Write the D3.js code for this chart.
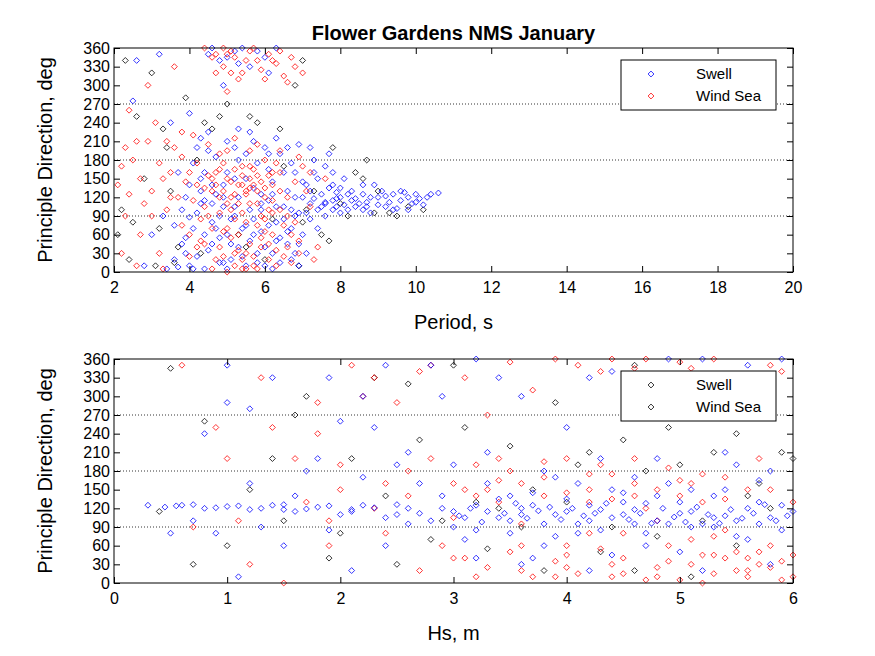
<!DOCTYPE html>
<html><head><meta charset="utf-8">
<script src="https://cdn.jsdelivr.net/npm/d3@7"></script>
<style>body{margin:0;background:#fff}text{font-family:"Liberation Sans",Arial,sans-serif}</style>
</head><body><svg id="c" width="875" height="656"></svg>
<script>
// values: "x,dir" pairs
var periodTicks = [2,4,6,8,10,12,14,16,18,20];
var hsTicks = [0,1,2,3,4,5,6];
var dirTicks = d3.range(0, 361, 30);

var topSwell = ("3.6,20 3.8,45 4.0,10 4.1,70 4.2,95 4.3,130 4.4,160 4.5,35 4.6,110 4.7,185 4.8,55 4.9,140 5.0,5 5.1,85 5.2,200 5.3,120 5.4,25 5.5,150 5.6,100 5.7,60 5.8,175 5.9,125 6.0,40 6.1,115 6.2,145 6.3,80 6.4,190 6.5,105 6.6,130 6.7,20 6.8,160 6.9,95 7.0,120 7.1,140 7.2,110 7.3,180 7.4,100 7.5,125 7.6,90 7.7,135 7.8,115 7.9,105 8.0,120 8.2,100 8.3,130 8.5,110 8.6,125 8.8,95 9.0,120 9.2,105 9.4,125 9.6,115 9.8,100 10.0,125 10.3,120 10.6,127 9.9,110 8.9,140 8.1,150 7.6,170 7.2,200 6.3,215 5.6,225 5.0,210 4.2,200 3.9,120 3.3,90 3.0,60 2.8,10 3.4,5 4.5,350 4.8,340 5.2,355 5.6,330 6.0,345 6.3,360 4.9,300 5.4,360 3.2,350 2.6,340 2.5,275 3.5,240 4.0,255 4.6,80 5.1,45 5.8,15 6.2,5 6.6,65 6.9,45 7.1,30 5.5,75 4.7,125 4.3,150 3.7,160 7.3,118 7.6,112 7.9,128 8.1,108 8.4,118 8.7,112 9.1,130 9.3,112 9.5,102 9.7,128 10.1,118 8.0,95 8.6,100 7.4,150 7.8,160 6.7,175 6.1,190 5.3,180 4.4,60 3.9,30 4.9,15 5.9,100 6.4,55 6.8,90 7.0,145 4.1,5 3.6,75 4.5,195 5.7,210 6.6,200 5.2,150 4.8,90 " +
  "3.7,8 3.9,55 4.0,88 4.2,25 4.3,110 4.4,5 4.6,45 4.7,70 4.8,15 4.9,105 5.0,60 5.1,20 5.2,90 5.3,40 5.4,70 5.5,10 5.6,50 5.7,85 5.8,30 5.9,65 6.0,10 6.1,75 6.2,30 6.3,50 6.4,15 6.5,85 6.6,45 6.7,70 6.8,30 6.9,10 7.0,60 7.2,85 7.4,70 7.6,110 7.8,100 8.0,135 8.2,125 8.4,105 8.6,140 8.8,120 9.0,108 9.2,122 9.4,100 9.6,130 9.8,120 10.0,112 10.2,108 10.4,125 7.1,95 7.5,105 7.9,118 8.3,115 8.7,105 7.3,160 7.7,190 6.9,205 6.5,160 6.0,200 5.5,190 5.0,160 4.6,140 4.1,175 4.5,225 5.3,230 6.1,165 6.8,120 6.2,125 5.7,135 5.2,105 4.9,120 4.4,115 4.0,140 3.8,100 4.3,215 5.0,345 5.3,335 5.8,355 6.1,320 4.6,360 5.9,110 6.3,105 6.7,100 7.2,130 7.8,140").split(" ");
var topWind = ("2.1,140 2.3,90 2.5,180 2.7,60 2.9,210 3.0,130 3.2,30 3.4,100 3.5,160 3.6,200 3.8,75 3.9,145 4.0,25 4.1,115 4.2,175 4.3,50 4.4,135 4.5,90 4.6,5 4.7,160 4.8,120 4.9,65 5.0,195 5.1,145 5.2,30 5.3,110 5.4,170 5.5,80 5.6,150 5.7,10 5.8,130 5.9,55 6.0,180 6.1,100 6.2,140 6.3,35 6.4,160 6.5,75 6.6,120 6.7,15 6.8,145 6.9,50 7.0,170 7.2,105 7.4,40 7.6,150 4.6,345 4.9,330 5.1,355 5.3,310 5.5,340 5.7,360 5.9,325 6.1,350 6.3,335 6.5,315 6.7,345 5.0,290 4.4,360 3.6,330 2.9,300 2.4,260 3.1,240 3.8,225 4.5,205 5.2,215 5.8,205 6.4,195 2.2,30 2.6,10 3.3,5 4.1,220 4.8,40 5.4,20 5.6,45 5.9,90 6.2,60 5.1,100 4.3,85 4.7,20 5.0,0 5.3,60 5.5,125 5.7,165 6.0,135 6.1,20 5.4,140 4.9,175 4.6,150 5.8,110 6.4,100 6.8,80 7.1,130 3.7,120 3.3,150 2.8,110 2.3,200 4.2,140 5.2,125 5.6,135 6.2,160 4.4,105 4.0,60 5.5,5 6.6,40 7.3,20 5.0,350 5.4,320 6.0,310 6.8,330 4.7,320 " +
  "4.5,155 4.6,130 4.7,140 4.8,165 4.9,130 5.0,150 5.1,120 5.2,165 5.3,140 5.4,155 5.5,130 5.6,170 5.7,140 5.8,155 5.9,145 6.0,120 6.1,155 6.2,115 5.0,110 5.2,85 5.4,95 5.6,110 5.8,75 6.0,85 6.2,95 6.4,130 6.6,90 4.8,95 4.6,70 4.4,45 4.9,25 5.1,55 5.3,35 5.5,30 5.7,25 5.9,40 6.1,45 6.3,10 6.5,25 6.7,60 6.9,30 5.0,70 5.2,10 5.4,5 5.8,5 6.0,65 4.2,40 4.0,160 3.8,185 3.5,120 3.2,175 3.0,90 2.7,150 2.4,125 2.2,170 2.6,210 3.4,210 4.8,190 5.6,195 6.3,175 6.9,185 7.2,160 4.7,350 5.2,345 5.6,355 6.2,340 6.4,355 5.8,340 5.1,320 4.9,360 6.6,305 7.0,320").split(" ");
var topBlack = "2.2,100 2.6,250 3.0,320 3.4,200 3.9,280 4.4,240 5.0,270 5.6,250 6.4,230 7.0,80 7.5,60 8.2,90 8.6,150 9.3,95 9.8,105 10.2,100 8.7,180 7.8,200 6.8,300 7.0,340 2.4,20 2.8,150 3.2,70 3.7,40 4.2,180 5.3,60 6.0,20 6.5,170 7.3,130 8.0,110 2.3,340 3.1,10 4.6,230 7.7,50 9.0,130 2.1,60 3.5,130 6.9,10 8.4,160 5.8,240 3.3,230 4.8,250 6.2,85 7.1,100 8.9,95 9.5,90 2.5,80 3.6,15 4.3,30 5.5,40".split(" ");

var botSwell = ("0.3,125 0.45,122 0.6,125 0.8,120 1.0,123 1.2,118 1.4,125 1.6,115 1.8,122 2.0,110 2.2,125 2.4,105 2.6,120 2.8,100 3.0,115 3.2,125 3.4,105 3.6,120 3.8,95 4.0,115 4.2,125 4.4,105 4.6,118 4.8,100 5.0,112 5.2,95 5.4,108 5.6,120 5.8,105 6.0,115 0.8,240 1.0,350 1.2,280 1.5,60 1.7,180 1.9,330 2.1,20 2.3,250 2.5,190 2.7,160 2.9,300 3.1,70 3.3,210 3.5,140 3.7,40 3.9,170 4.1,80 4.3,200 4.5,145 4.7,60 4.9,360 5.1,150 5.3,90 5.5,190 5.7,130 5.9,360 3.0,90 3.2,85 3.4,135 3.6,110 4.2,100 4.6,95 5.0,130 5.5,100 2.6,95 1.9,85 1.3,90 0.9,80 1.1,10 1.6,140 2.2,300 2.8,350 3.4,330 4.4,340 5.2,360 0.5,80 3.1,105 3.3,115 3.5,100 3.7,125 3.9,110 4.1,95 4.3,118 4.5,110 4.7,128 4.9,95 5.1,115 5.3,105 5.7,95 5.9,125 2.9,120 2.5,110 2.1,115 1.5,118 4.0,135 4.4,150 4.8,140 5.4,150 3.8,180 4.6,170 5.8,180 2.4,60 3.6,30 4.2,20 5.0,50 5.6,70 1.8,200 2.0,260 1.4,330 3.2,360 4.0,250 " +
  "0.55,124 0.7,126 0.9,121 1.1,124 1.3,120 1.5,126 1.7,119 1.9,124 2.1,118 2.3,121 2.5,126 2.7,112 3.05,108 3.15,120 3.25,98 3.45,112 3.55,128 3.65,104 3.75,116 3.85,122 3.95,102 4.05,120 4.15,108 4.25,112 4.35,128 4.55,102 4.65,112 4.75,96 4.85,120 4.95,106 5.05,98 5.15,122 5.25,110 5.35,96 5.45,118 5.55,104 5.65,112 5.75,126 5.85,100 5.95,108 2.9,140 3.3,160 3.7,145 4.1,160 4.5,130 4.9,160 5.3,140 5.7,165 3.5,80 3.9,75 4.3,85 4.7,80 5.1,90 5.5,75 5.9,85 3.2,40 3.8,60 4.4,45 5.2,20 5.8,30 2.2,170 2.6,210 3.0,190 4.8,200 5.4,210 1.2,160 0.7,100 1.0,290 2.4,350 3.6,300 4.2,330 5.6,350").split(" ");
var botWind = ("0.6,350 0.9,250 1.1,100 1.3,330 1.6,200 1.8,240 2.0,150 2.2,300 2.4,80 2.6,180 2.8,350 3.0,40 3.2,190 3.4,130 3.6,20 3.8,170 4.0,60 4.2,150 4.4,30 4.6,200 4.8,10 5.0,140 5.2,45 5.4,170 5.6,20 5.8,60 6.0,130 3.1,150 3.5,180 3.9,10 4.3,190 4.5,80 4.7,120 4.9,35 5.1,70 5.3,15 5.5,50 5.7,30 5.9,5 4.1,350 4.6,345 5.0,355 5.5,330 3.3,270 2.5,290 3.7,310 4.8,300 5.6,280 1.2,30 1.5,0 2.7,20 3.0,160 3.4,200 3.8,140 4.2,175 4.4,135 4.6,160 4.9,185 5.2,130 5.4,40 5.6,10 5.8,25 6.0,10 3.6,60 4.0,25 4.5,15 5.0,5 5.3,75 2.9,60 3.2,10 2.3,120 1.9,60 1.0,200 0.7,90 2.1,350 3.9,360 4.4,360 5.8,350 4.0,200 3.3,150 2.6,140 5.1,160 5.7,200 " +
  "3.1,40 3.3,25 3.5,50 3.7,10 3.9,35 4.1,15 4.3,55 4.5,40 4.7,5 4.9,60 5.1,30 5.3,45 5.5,20 5.7,50 5.9,35 4.0,45 4.4,10 4.8,25 5.2,0 5.6,40 6.0,45 3.2,140 3.6,160 4.0,145 4.4,175 4.8,150 5.2,175 5.6,150 3.4,165 3.8,195 4.2,130 4.6,140 5.0,165 5.4,135 5.8,150 2.8,200 2.4,160 2.0,190 1.7,130 3.0,105 3.6,95 4.2,80 4.8,100 5.4,85 2.7,340 3.5,355 4.3,340 5.1,345 5.9,340 5.3,360 4.7,360 3.1,330 2.3,330 1.8,290 1.4,250 1.9,100").split(" ");
var botBlack = "0.5,345 0.8,260 1.0,60 1.2,150 1.4,200 1.7,300 1.9,40 2.1,200 2.3,330 2.5,30 2.7,230 2.9,100 3.1,250 3.3,55 3.5,220 3.7,150 3.9,290 4.1,190 4.3,50 4.5,230 4.7,180 4.9,250 5.1,10 5.3,210 5.5,240 5.7,160 5.9,210 0.4,115 0.7,30 1.6,270 2.0,80 2.6,320 3.2,130 3.6,90 4.0,130 4.4,90 4.8,75 5.2,100 5.6,140 6.0,200 3.0,350 4.6,350 5.4,300 3.4,120 3.8,20 4.2,210 5.0,190 5.8,120 2.4,140 1.5,100 2.8,70 4.6,20 5.5,60".split(" ");

function parse(arr) { return arr.map(function(s) { var p = s.split(","); return {x: +p[0], y: +p[1]}; }); }

var svg = d3.select("#c");
var L = 114, R = 793;

svg.append("text").attr("x", (L + R) / 2).attr("y", 40).attr("text-anchor", "middle")
  .style("font-size", "20px").style("font-weight", "bold").text("Flower Gardens NMS January");

function panel(top, bottom, xDom, xTicks, xLabel, series, legendCols) {
  var x = d3.scaleLinear().domain(xDom).range([L, R]);
  var y = d3.scaleLinear().domain([0, 360]).range([bottom, top]);
  var g = svg.append("g");

  [90, 180, 270].forEach(function(v) {
    g.append("line").attr("x1", L).attr("x2", R).attr("y1", y(v)).attr("y2", y(v))
      .attr("stroke", "#000").attr("stroke-width", 0.8).attr("stroke-dasharray", "1,2");
  });

  var diamond = d3.symbol().type(d3.symbolDiamond2).size(22);
  series.forEach(function(s) {
    g.selectAll(null).data(parse(s.data)).enter().append("path")
      .attr("d", diamond).attr("transform", function(d) { return "translate(" + x(d.x) + "," + y(d.y) + ")"; })
      .attr("fill", "none").attr("stroke", s.color).attr("stroke-width", 0.8);
  });

  g.append("rect").attr("x", L).attr("y", top).attr("width", R - L).attr("height", bottom - top)
    .attr("fill", "none").attr("stroke", "#000");

  g.append("g").attr("transform", "translate(0," + bottom + ")")
    .call(d3.axisBottom(x).tickValues(xTicks).tickSize(-6).tickPadding(10).tickFormat(d3.format("d")));
  g.append("g").attr("transform", "translate(" + L + ",0)")
    .call(d3.axisLeft(y).tickValues(dirTicks).tickSize(-6).tickPadding(4));
  g.append("g").attr("transform", "translate(0," + top + ")")
    .call(d3.axisTop(x).tickValues(xTicks).tickSize(-6).tickFormat(""));
  g.append("g").attr("transform", "translate(" + R + ",0)")
    .call(d3.axisRight(y).tickValues(dirTicks).tickSize(-6).tickFormat(""));
  g.selectAll(".domain").remove();
  g.selectAll(".tick text").style("font-size", "16px").attr("fill", "#000")
    .style("font-family", "'Liberation Sans',Arial,sans-serif");

  g.append("text").attr("x", (L + R) / 2).attr("y", bottom + 57).attr("text-anchor", "middle")
    .style("font-size", "20px").text(xLabel);
  g.append("text").attr("transform", "translate(52," + (top + bottom) / 2 + ") rotate(-90)")
    .attr("text-anchor", "middle").style("font-size", "20px").text("Principle Direction, deg");

  var lg = g.append("g").attr("transform", "translate(621," + (top + 12) + ")");
  lg.append("rect").attr("width", 155).attr("height", 50).attr("fill", "#fff").attr("stroke", "#000");
  ["Swell", "Wind Sea"].forEach(function(name, i) {
    lg.append("path").attr("d", diamond).attr("transform", "translate(30," + (14 + i * 22) + ")")
      .attr("fill", "none").attr("stroke", legendCols[i]).attr("stroke-width", 0.8);
    lg.append("text").attr("x", 75).attr("y", 19 + i * 22).style("font-size", "15px").text(name);
  });
}

panel(48, 272, [2, 20], periodTicks, "Period, s",
  [{data: topBlack, color: "#000"}, {data: topSwell, color: "#0000ff"}, {data: topWind, color: "#ff0000"}],
  ["#0000ff", "#ff0000"]);
panel(359, 583, [0, 6], hsTicks, "Hs, m",
  [{data: botBlack, color: "#000"}, {data: botWind, color: "#ff0000"}, {data: botSwell, color: "#0000ff"}],
  ["#000", "#000"]);
</script></body></html>
